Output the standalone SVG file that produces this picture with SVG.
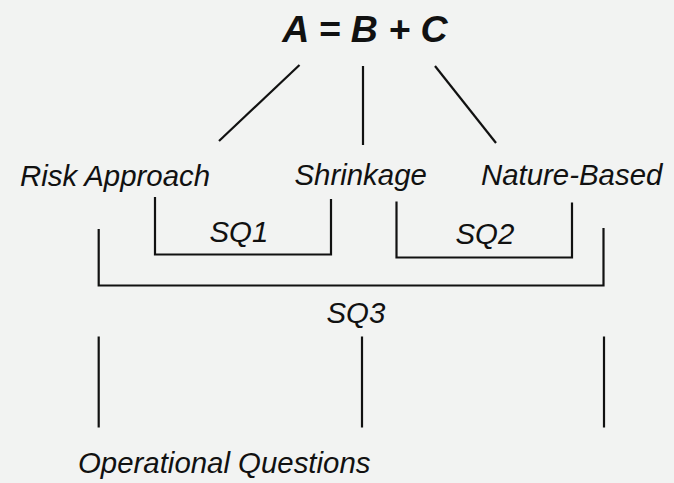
<svg xmlns="http://www.w3.org/2000/svg" width="674" height="483" viewBox="0 0 674 483">
<style>
.t{font-family:"Liberation Sans",Arial,Helvetica,sans-serif;font-style:italic;font-size:29.4px;fill:#111;}
.title{font-family:"Liberation Sans",Arial,Helvetica,sans-serif;font-style:italic;font-weight:bold;font-size:37.5px;fill:#111;}
.c line,.c path{stroke:#111;stroke-width:2.2;fill:none;}
</style>
<rect width="674" height="483" fill="#f2f3f2"/>
<g id="title"><text class="title" x="365" y="42" text-anchor="middle">A = B + C</text></g>
<g id="risk"><text class="t" x="20" y="186">Risk Approach</text></g>
<g id="shrinkage"><text class="t" x="294.5" y="185">Shrinkage</text></g>
<g id="nature"><text class="t" x="481" y="185">Nature-Based</text></g>
<g id="sq1"><text class="t" x="209.5" y="242">SQ1</text></g>
<g id="sq2"><text class="t" x="455.5" y="244">SQ2</text></g>
<g id="sq3"><text class="t" x="326.5" y="323">SQ3</text></g>
<g id="ops"><text class="t" x="78" y="473">Operational Questions</text></g>
<g class="c" id="connectors">
<line x1="299.5" y1="65" x2="219" y2="141"/>
<line x1="363" y1="66" x2="363" y2="145"/>
<line x1="435" y1="66" x2="496" y2="143"/>
<path d="M155 197 V254.5 H331 V199"/>
<path d="M396.5 201.5 V257.5 H572 V202.5"/>
<path d="M98.7 229 V285.5 H603.5 V228"/>
<line x1="98.7" y1="336.5" x2="98.7" y2="427.5"/>
<line x1="362" y1="336.5" x2="362" y2="427.5"/>
<line x1="604" y1="336.5" x2="604" y2="427.5"/>
</g>
</svg>
